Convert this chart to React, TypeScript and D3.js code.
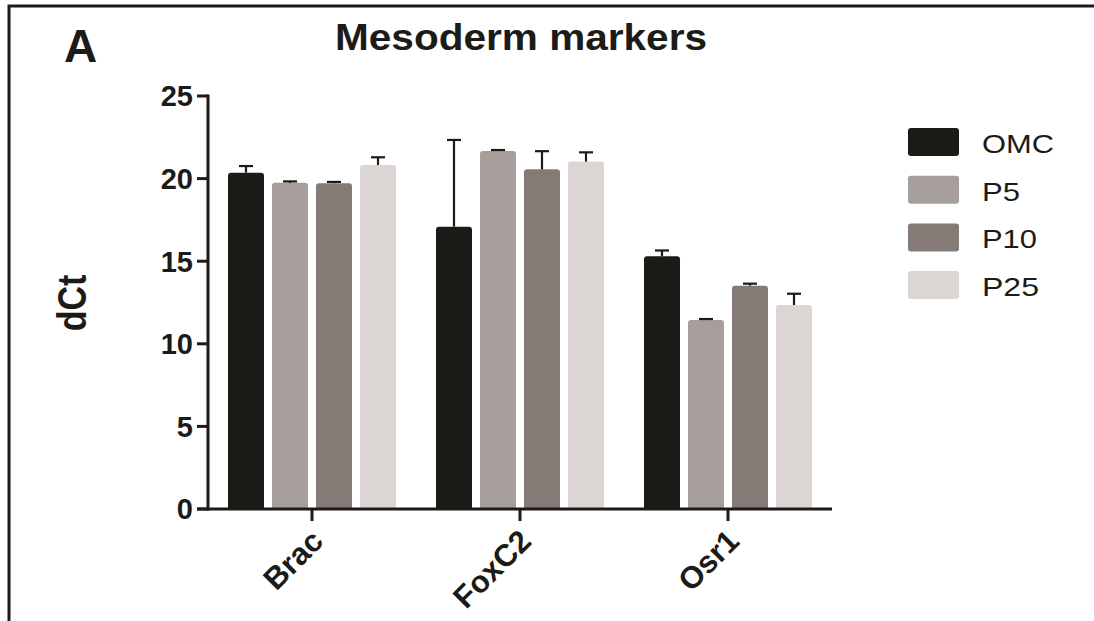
import React, { useEffect, useRef } from 'react';
import * as d3 from 'd3';

// genes on the x axis, passages in the legend
const categories = ['Brac', 'FoxC2', 'Osr1'];
const groups = ['OMC', 'P5', 'P10', 'P25'];
const groupColors = ['#1c1b17', '#a69e9a', '#847b76', '#dbd6d3'];

// dCt means and SEM (upper bar only), one value per gene
const omcMean = [20.36, 17.09, 15.3];
const omcErr = [0.4, 5.25, 0.35];
const p5Mean = [19.75, 21.67, 11.44];
const p5Err = [0.08, 0.06, 0.06];
const p10Mean = [19.72, 20.56, 13.52];
const p10Err = [0.08, 1.1, 0.12];
const p25Mean = [20.82, 21.03, 12.35];
const p25Err = [0.47, 0.56, 0.68];

const yTicks = [0, 5, 10, 15, 20, 25];
const legendWidths = [72, 38, 55, 57];

const INK = '#1c1b17';
const FONT = '"Liberation Sans", Arial, Helvetica, sans-serif';

const App = () => {
    const ref = useRef<SVGSVGElement | null>(null);

    useEffect(() => {
        if (!ref.current) return;
        const svg = d3.select(ref.current);
        svg.selectAll('*').remove();

        const means = [omcMean, p5Mean, p10Mean, p25Mean];
        const errs = [omcErr, p5Err, p10Err, p25Err];
        const rows = categories.flatMap((c, ci) =>
            groups.map((g, gi) => ({ cat: c, group: g, gi, value: means[gi][ci], err: errs[gi][ci] }))
        );

        const x0 = d3.scaleBand().domain(categories).range([208, 832]).padding(0);
        const x1 = d3.scaleBand().domain(groups).range([20, 188]).paddingInner(0.182).paddingOuter(0);
        const y = d3.scaleLinear().domain([0, 25]).range([509, 96]);

        // panel frame (top and left edges only)
        svg.append('path')
            .attr('d', 'M9,621 V6 H1094')
            .attr('fill', 'none')
            .attr('stroke', INK)
            .attr('stroke-width', 3);

        // bars with rounded top corners
        const r = 3;
        svg.append('g').selectAll('path')
            .data(rows)
            .join('path')
            .attr('fill', d => groupColors[d.gi])
            .attr('d', d => {
                const xl = (x0(d.cat) as number) + (x1(d.group) as number);
                const w = x1.bandwidth();
                const yt = y(d.value), yb = y(0);
                return `M${xl},${yb} V${yt + r} Q${xl},${yt} ${xl + r},${yt} H${xl + w - r} Q${xl + w},${yt} ${xl + w},${yt + r} V${yb} Z`;
            });

        // error bars (upward only)
        const eb = svg.append('g').attr('stroke', INK).attr('stroke-width', 2.2);
        rows.forEach(d => {
            const cx = (x0(d.cat) as number) + (x1(d.group) as number) + x1.bandwidth() / 2;
            const yt = y(d.value), ye = y(d.value + d.err);
            eb.append('line').attr('x1', cx).attr('x2', cx).attr('y1', yt).attr('y2', ye);
            eb.append('line').attr('x1', cx - 7).attr('x2', cx + 7).attr('y1', ye).attr('y2', ye);
        });

        // y axis
        const yAxis = svg.append('g');
        yAxis.append('line')
            .attr('x1', 208).attr('x2', 208)
            .attr('y1', y(25) - 1.5).attr('y2', y(0) + 1.5)
            .attr('stroke', INK).attr('stroke-width', 3);
        yTicks.forEach(t => {
            yAxis.append('line')
                .attr('x1', 197).attr('x2', 208)
                .attr('y1', y(t)).attr('y2', y(t))
                .attr('stroke', INK).attr('stroke-width', 3);
            yAxis.append('text')
                .attr('x', 193).attr('y', y(t)).attr('dy', '0.36em')
                .attr('text-anchor', 'end')
                .attr('font-family', FONT).attr('font-weight', 'bold').attr('font-size', 29)
                .attr('fill', INK)
                .text(t);
        });

        // x axis
        const xAxis = svg.append('g');
        xAxis.append('line')
            .attr('x1', 197).attr('x2', 832)
            .attr('y1', y(0)).attr('y2', y(0))
            .attr('stroke', INK).attr('stroke-width', 3);
        categories.forEach(c => {
            const cx = (x0(c) as number) + x0.bandwidth() / 2;
            xAxis.append('line')
                .attr('x1', cx).attr('x2', cx)
                .attr('y1', y(0)).attr('y2', y(0) + 12)
                .attr('stroke', INK).attr('stroke-width', 3);
            xAxis.append('text')
                .attr('transform', `translate(${cx + 13},${543}) rotate(-45)`)
                .attr('text-anchor', 'end')
                .attr('font-family', FONT).attr('font-weight', 'bold').attr('font-size', 31)
                .attr('fill', INK)
                .text(c);
        });

        // y axis title
        svg.append('text')
            .attr('transform', 'translate(86,303) scale(1.2,1) rotate(-90)')
            .attr('text-anchor', 'middle')
            .attr('font-family', FONT).attr('font-weight', 'bold').attr('font-size', 34)
            .attr('fill', INK)
            .text('dCt');

        // chart title and panel letter
        svg.append('text')
            .attr('x', 335).attr('y', 50)
            .attr('textLength', 372).attr('lengthAdjust', 'spacingAndGlyphs')
            .attr('font-family', FONT).attr('font-weight', 'bold').attr('font-size', 36)
            .attr('fill', INK)
            .text('Mesoderm markers');
        svg.append('text')
            .attr('x', 64).attr('y', 62)
            .attr('font-family', FONT).attr('font-weight', 'bold').attr('font-size', 46)
            .attr('fill', INK)
            .text('A');

        // legend
        const legend = svg.append('g');
        groups.forEach((g, i) => {
            const top = 128 + i * 47.7;
            legend.append('rect')
                .attr('x', 908).attr('y', top).attr('width', 51).attr('height', 28).attr('rx', 3)
                .attr('fill', groupColors[i]);
            legend.append('text')
                .attr('x', 982).attr('y', top + 25)
                .attr('textLength', legendWidths[i]).attr('lengthAdjust', 'spacingAndGlyphs')
                .attr('font-family', FONT).attr('font-size', 26)
                .attr('fill', INK)
                .text(g);
        });
    }, []);

    return (
        <svg
            ref={ref}
            width={1094}
            height={621}
            style={{ position: 'absolute', left: 0, top: 0, background: '#fff' }}
        />
    );
};

export default App;
